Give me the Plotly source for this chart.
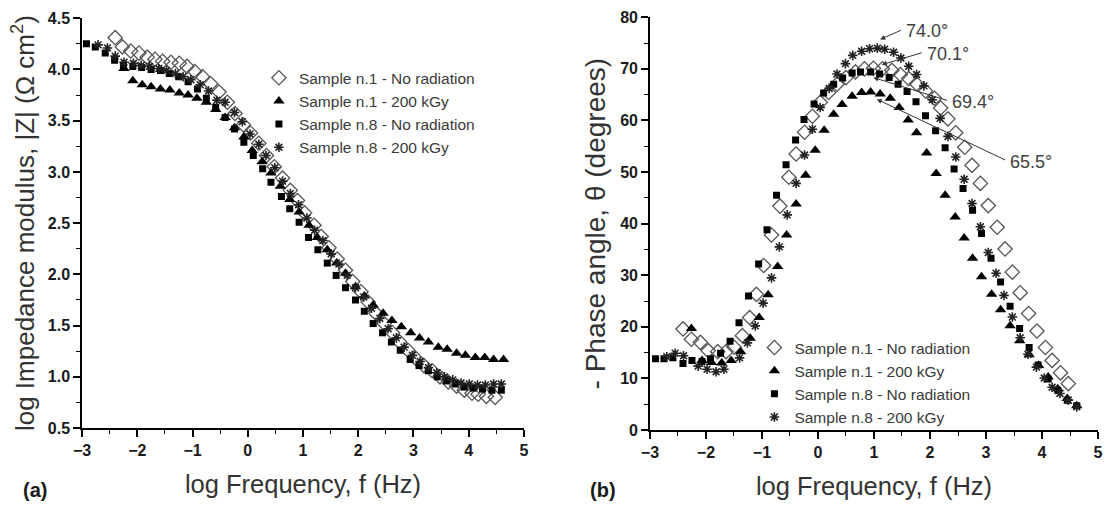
import plotly.graph_objects as go

# ---- panel (a): log |Z| vs log f ----
za_n1_x = [-2.40, -2.27, -2.12, -1.97, -1.82, -1.68, -1.54, -1.39, -1.24, -1.10, -0.96, -0.82, -0.67,
           -0.52, -0.37, -0.23, -0.08, 0.05, 0.20, 0.34, 0.48, 0.63, 0.77, 0.90, 1.03, 1.20, 1.33, 1.47,
           1.62, 1.77, 1.90, 2.05, 2.18, 2.32, 2.47, 2.62, 2.75, 2.90, 3.04, 3.19, 3.34, 3.48, 3.63, 3.78,
           3.92, 4.06, 4.17, 4.32, 4.48]
za_n1_y = [4.31, 4.22, 4.18, 4.16, 4.12, 4.10, 4.08, 4.07, 4.06, 4.03, 3.98, 3.93, 3.86, 3.78, 3.68,
           3.57, 3.46, 3.38, 3.28, 3.16, 3.05, 2.94, 2.82, 2.72, 2.60, 2.48, 2.37, 2.26, 2.15, 2.04, 1.93,
           1.83, 1.73, 1.62, 1.52, 1.43, 1.34, 1.26, 1.18, 1.11, 1.06, 1.00, 0.95, 0.91, 0.87, 0.84, 0.83,
           0.81, 0.80]

za_n1g_x = [-2.24, -2.08, -1.91, -1.75, -1.58, -1.41, -1.24, -1.08, -0.92, -0.75, -0.58, -0.41, -0.24,
            -0.07, 0.08, 0.26, 0.42, 0.59, 0.76, 0.93, 1.11, 1.26, 1.44, 1.61, 1.77, 1.95, 2.11, 2.27,
            2.45, 2.61, 2.78, 2.95, 3.11, 3.27, 3.45, 3.61, 3.78, 3.94, 4.12, 4.29, 4.45, 4.63]
za_n1g_y = [4.01, 3.89, 3.85, 3.83, 3.81, 3.80, 3.77, 3.75, 3.72, 3.68, 3.61, 3.53, 3.43, 3.34, 3.21,
            3.10, 2.99, 2.86, 2.73, 2.61, 2.48, 2.36, 2.24, 2.11, 2.01, 1.88, 1.79, 1.70, 1.62, 1.55,
            1.49, 1.43, 1.38, 1.34, 1.29, 1.27, 1.23, 1.21, 1.19, 1.19, 1.17, 1.17]

za_n8_x = [-2.92, -2.76, -2.58, -2.41, -2.25, -2.08, -1.92, -1.75, -1.58, -1.42, -1.25, -1.08, -0.91,
           -0.75, -0.58, -0.41, -0.24, -0.07, 0.10, 0.27, 0.42, 0.61, 0.76, 0.93, 1.10, 1.27, 1.44, 1.60,
           1.77, 1.95, 2.11, 2.27, 2.44, 2.60, 2.76, 2.94, 3.10, 3.27, 3.43, 3.60, 3.76, 3.92, 4.08, 4.25,
           4.42, 4.59]
za_n8_y = [4.25, 4.22, 4.16, 4.09, 4.04, 4.03, 4.02, 4.00, 3.99, 3.96, 3.93, 3.88, 3.81, 3.72, 3.63,
           3.53, 3.42, 3.29, 3.16, 3.03, 2.90, 2.76, 2.64, 2.51, 2.36, 2.24, 2.11, 1.99, 1.87, 1.75, 1.64,
           1.52, 1.43, 1.34, 1.26, 1.17, 1.11, 1.06, 1.00, 0.96, 0.93, 0.90, 0.89, 0.88, 0.87, 0.87]

za_n8g_x = [-2.71, -2.54, -2.40, -2.24, -2.07, -1.93, -1.78, -1.61, -1.47, -1.31, -1.17, -1.03, -0.86,
            -0.71, -0.56, -0.41, -0.24, -0.10, 0.04, 0.20, 0.33, 0.49, 0.63, 0.77, 0.92, 1.07, 1.21, 1.36,
            1.51, 1.65, 1.80, 1.95, 2.10, 2.24, 2.39, 2.54, 2.69, 2.83, 2.98, 3.12, 3.27, 3.42, 3.56, 3.71,
            3.86, 4.01, 4.16, 4.30, 4.45, 4.59]
za_n8g_y = [4.24, 4.21, 4.13, 4.07, 4.06, 4.04, 4.03, 4.01, 3.99, 3.96, 3.93, 3.90, 3.85, 3.79, 3.70,
            3.68, 3.58, 3.49, 3.37, 3.27, 3.16, 3.04, 2.91, 2.79, 2.68, 2.55, 2.43, 2.33, 2.20, 2.10, 1.99,
            1.87, 1.78, 1.67, 1.57, 1.47, 1.38, 1.29, 1.21, 1.15, 1.09, 1.04, 1.00, 0.97, 0.94, 0.93, 0.92,
            0.92, 0.93, 0.93]

# ---- panel (b): -phase angle vs log f ----
ph_n1_x = [-2.41, -2.26, -2.10, -1.96, -1.79, -1.64, -1.50, -1.35, -1.22, -1.10, -0.97, -0.83, -0.68,
           -0.52, -0.39, -0.24, -0.10, 0.04, 0.19, 0.34, 0.50, 0.67, 0.83, 0.99, 1.15, 1.32, 1.47, 1.62,
           1.76, 1.92, 2.08, 2.19, 2.32, 2.46, 2.62, 2.75, 2.90, 3.04, 3.20, 3.34, 3.47, 3.61, 3.76, 3.91,
           4.06, 4.18, 4.33, 4.47]
ph_n1_y = [19.6, 17.6, 17.0, 15.4, 15.2, 15.2, 16.1, 18.3, 21.8, 26.3, 31.9, 37.8, 43.4, 49.0, 53.5,
           57.7, 60.8, 63.5, 65.4, 67.0, 68.3, 69.4, 70.0, 70.1, 70.0, 69.7, 68.9, 68.1, 67.1, 65.7, 64.3,
           62.4, 60.3, 57.6, 54.8, 51.3, 47.8, 43.5, 39.3, 35.1, 30.6, 26.6, 22.6, 19.2, 16.0, 13.5, 11.1,
           9.0]

ph_n1g_x = [-2.26, -2.07, -1.90, -1.72, -1.55, -1.38, -1.21, -1.05, -0.89, -0.72, -0.56, -0.39, -0.22,
            -0.05, 0.11, 0.28, 0.43, 0.61, 0.78, 0.94, 1.11, 1.29, 1.45, 1.61, 1.76, 1.94, 2.11, 2.27,
            2.45, 2.61, 2.76, 2.92, 3.10, 3.26, 3.43, 3.60, 3.77, 3.94, 4.11, 4.28, 4.45, 4.62]
ph_n1g_y = [19.7, 13.5, 13.1, 13.0, 13.5, 15.2, 17.8, 21.8, 26.2, 31.7, 37.8, 43.8, 49.4, 54.2, 58.1,
            61.2, 63.1, 64.7, 65.4, 65.5, 65.1, 64.3, 62.5, 60.1, 57.6, 53.7, 49.7, 45.5, 41.3, 37.2,
            33.3, 29.7, 26.3, 23.3, 20.2, 17.3, 14.6, 12.5, 10.3, 8.0, 6.1, 4.7]

ph_n8_x = [-2.90, -2.75, -2.59, -2.41, -2.25, -2.07, -1.92, -1.74, -1.57, -1.41, -1.24, -1.06, -0.91,
           -0.74, -0.57, -0.40, -0.25, -0.07, 0.10, 0.28, 0.44, 0.61, 0.76, 0.94, 1.10, 1.27, 1.43, 1.59,
           1.75, 1.92, 2.10, 2.27, 2.43, 2.59, 2.76, 2.92, 3.09, 3.26, 3.43, 3.60, 3.77, 3.93, 4.11, 4.28,
           4.45, 4.62]
ph_n8_y = [13.8, 13.8, 14.0, 12.9, 13.5, 13.3, 13.8, 14.9, 17.2, 20.8, 26.0, 32.2, 38.8, 45.5, 51.4,
           56.2, 60.2, 63.2, 65.3, 67.0, 68.2, 69.2, 69.4, 69.4, 69.0, 68.3, 67.0, 65.6, 63.6, 60.9, 58.0,
           54.7, 50.6, 46.8, 42.6, 38.1, 33.3, 28.7, 24.0, 19.7, 16.0, 12.6, 9.9, 7.7, 5.8, 4.7]

ph_n8g_x = [-2.70, -2.55, -2.40, -2.14, -1.98, -1.82, -1.68, -1.40, -1.26, -1.12, -0.98, -0.83, -0.69,
            -0.55, -0.39, -0.24, -0.10, 0.04, 0.20, 0.34, 0.49, 0.62, 0.78, 0.92, 1.06, 1.19, 1.35, 1.48,
            1.62, 1.76, 1.89, 2.04, 2.18, 2.32, 2.46, 2.61, 2.75, 2.90, 3.04, 3.18, 3.32, 3.47, 3.61, 3.75,
            3.90, 4.04, 4.18, 4.32, 4.47, 4.62]
ph_n8g_y = [14.2, 14.9, 14.4, 12.4, 11.8, 11.3, 11.8, 14.0, 16.9, 20.2, 24.6, 29.5, 35.5, 41.7, 47.8,
            53.3, 58.3, 62.5, 66.2, 69.0, 71.0, 72.6, 73.4, 73.9, 74.0, 73.8, 73.2, 72.1, 70.5, 68.9, 66.7,
            64.0, 60.4, 56.9, 52.9, 48.6, 43.9, 39.4, 34.4, 30.4, 26.1, 21.9, 17.9, 14.7, 12.2, 10.1, 8.3,
            7.1, 5.8, 4.5]

names = ["Sample n.1 - No radiation", "Sample n.1 - 200 kGy",
         "Sample n.8 - No radiation", "Sample n.8 - 200 kGy"]

# peak labels: text, arrow head (x, y), arrow tail (x, y)
peak_labels = ["74.0°", "70.1°", "69.4°", "65.5°"]
peak_heads = [(1.11, 75.7), (1.14, 70.8), (0.99, 68.3), (1.05, 64.1)]
peak_tails = [(1.51, 77.6), (1.88, 73.2), (2.33, 63.8), (3.37, 52.2)]

FONT = "Liberation Sans"
markers = [
    {"symbol": "diamond-open", "size": 11, "color": "#555555", "line": {"width": 1.3, "color": "#555555"}},
    {"symbol": "triangle-up", "size": 10, "color": "black"},
    {"symbol": "square", "size": 7, "color": "black"},
    {"symbol": "asterisk-open", "size": 8, "color": "#222222", "line": {"width": 1.6, "color": "#222222"}},
]

fig = go.Figure()
panel_a = [(za_n1_x, za_n1_y), (za_n1g_x, za_n1g_y), (za_n8_x, za_n8_y), (za_n8g_x, za_n8g_y)]
panel_b = [(ph_n1_x, ph_n1_y), (ph_n1g_x, ph_n1g_y), (ph_n8_x, ph_n8_y), (ph_n8g_x, ph_n8g_y)]
for i, (x, y) in enumerate(panel_a):
    fig.add_trace(go.Scatter(x=x, y=y, mode="markers", name=names[i], marker=markers[i],
                             xaxis="x", yaxis="y", legend="legend"))
for i, (x, y) in enumerate(panel_b):
    fig.add_trace(go.Scatter(x=x, y=y, mode="markers", name=names[i], marker=markers[i],
                             xaxis="x2", yaxis="y2", legend="legend2"))

tickfont = {"family": FONT, "size": 16, "color": "#1a1a1a", "weight": "bold"}


def xaxis(domain, anchor):
    return {
        "domain": domain, "anchor": anchor, "range": [-3, 5], "dtick": 1, "tick0": -3,
        "automargin": False,
        "ticks": "outside", "ticklen": 7, "tickwidth": 1.5, "tickcolor": "black",
        "showline": True, "linecolor": "black", "linewidth": 1.5, "showgrid": False, "zeroline": False,
        "minor": {"dtick": 0.5, "ticks": "outside", "ticklen": 4, "tickcolor": "black", "tickwidth": 1.2},
        "tickfont": tickfont,
        "title": {"text": "log Frequency, f (Hz)", "font": {"family": FONT, "size": 25.5, "color": "#333333"},
                  "standoff": 17},
    }


def yaxis(domain, anchor, rng, dtick, minor, fmt, title, size):
    return {
        "domain": domain, "anchor": anchor, "range": rng, "dtick": dtick, "tick0": rng[0],
        "automargin": False, "tickformat": fmt,
        "ticks": "outside", "ticklen": 7, "tickwidth": 1.5, "tickcolor": "black",
        "showline": True, "linecolor": "black", "linewidth": 1.5, "showgrid": False, "zeroline": False,
        "minor": {"dtick": minor, "ticks": "outside", "ticklen": 4, "tickcolor": "black", "tickwidth": 1.2},
        "tickfont": tickfont,
        "title": {"text": title, "font": {"family": FONT, "size": size, "color": "#333333"}, "standoff": 6},
    }


legend_style = {"font": {"family": FONT, "size": 15.5, "color": "#3a3a3a"}, "bgcolor": "rgba(0,0,0,0)",
                "yanchor": "top", "xanchor": "left", "tracegroupgap": 0, "itemwidth": 30}

annotations = [
    {"text": "<b>(a)</b>", "x": 0.019, "y": 0.032, "xref": "paper", "yref": "paper", "showarrow": False,
     "font": {"family": FONT, "size": 20, "color": "#1a1a1a"}, "xanchor": "left", "yanchor": "middle"},
    {"text": "<b>(b)</b>", "x": 0.527, "y": 0.032, "xref": "paper", "yref": "paper", "showarrow": False,
     "font": {"family": FONT, "size": 20, "color": "#1a1a1a"}, "xanchor": "left", "yanchor": "middle"},
]
for lab, (hx, hy), (tx, ty) in zip(peak_labels, peak_heads, peak_tails):
    annotations.append({"text": "", "x": hx, "y": hy, "ax": tx, "ay": ty, "xref": "x2", "yref": "y2",
                        "axref": "x2", "ayref": "y2", "showarrow": True, "arrowhead": 2, "arrowsize": 1,
                        "arrowwidth": 1, "arrowcolor": "#333333"})
    annotations.append({"text": lab, "x": tx + 0.03, "y": ty - 0.3, "xref": "x2", "yref": "y2",
                        "showarrow": False, "xanchor": "left", "yanchor": "middle",
                        "font": {"family": FONT, "size": 18, "color": "#404040"}})

fig.update_layout(
    width=1116, height=506,
    margin={"l": 0, "r": 0, "t": 0, "b": 0},
    paper_bgcolor="white", plot_bgcolor="white",
    showlegend=True,
    xaxis=xaxis([0.0735, 0.4695], "y"),
    yaxis=yaxis([0.154, 0.964], "x", [0.5, 4.5], 0.5, 0.25, ".1f",
                "log Impedance modulus, |Z| (Ω cm<sup>2</sup>)", 26),
    xaxis2=xaxis([0.5824, 0.9839], "y2"),
    yaxis2=yaxis([0.150, 0.966], "x2", [0, 80], 10, 5, "d", "- Phase angle, θ (degrees)", 28),
    legend={**legend_style, "x": 0.232, "y": 0.879},
    legend2={**legend_style, "x": 0.676, "y": 0.346},
    annotations=annotations,
)

# page has a default 8px body margin; drop it so the figure fills the window
fig.write_html("out.html", config={"displayModeBar": False},
               post_script="document.body.style.margin='0';")
